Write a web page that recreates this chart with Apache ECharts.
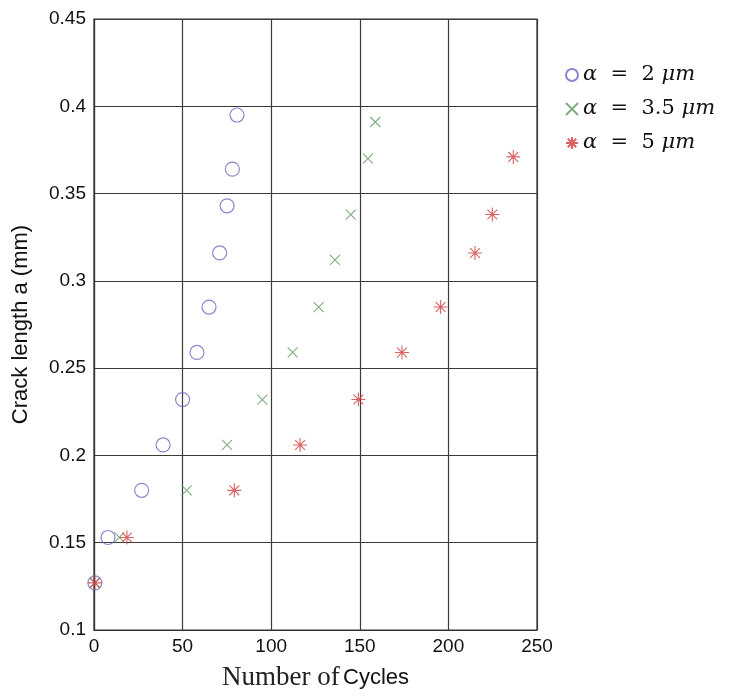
<!DOCTYPE html>
<html>
<head>
<meta charset="utf-8">
<script src="https://cdn.jsdelivr.net/npm/echarts@6/dist/echarts.min.js"></script>
<style>html,body{margin:0;padding:0;background:#fff;}#c{width:745px;height:696px;}</style>
</head>
<body>
<div id="c"></div>
<script>
// Data
var seriesNames = ['α = 2 μm', 'α = 3.5 μm', 'α = 5 μm'];
var cycles2 = [0.5, 7.9, 26.9, 39, 50, 58.1, 64.9, 70.9, 75.1, 78.1, 80.7];
var crack2 = [0.127, 0.153, 0.180, 0.206, 0.232, 0.259, 0.285, 0.316, 0.343, 0.364, 0.395];
var cycles35 = [0.5, 14.3, 52.3, 75.1, 95, 112.1, 126.8, 136, 144.9, 154.6, 158.7];
var crack35 = [0.127, 0.153, 0.180, 0.206, 0.232, 0.259, 0.285, 0.312, 0.338, 0.370, 0.391];
var cycles5 = [0.5, 18.6, 79.2, 116.3, 149.2, 173.8, 195.6, 215, 224.8, 236.6];
var crack5 = [0.127, 0.153, 0.180, 0.206, 0.232, 0.259, 0.285, 0.316, 0.338, 0.371];
var xTicks = [0, 50, 100, 150, 200, 250];
var yTicks = [0.1, 0.15, 0.2, 0.25, 0.3, 0.35, 0.4, 0.45];

function pairs(xs, ys) { return xs.map(function (x, i) { return [x, ys[i]]; }); }

var chart = echarts.init(document.getElementById('c'));
var gridColor = '#3a3a3a';
var option = {
  animation: false,
  backgroundColor: '#fff',
  grid: { left: 94, top: 19, right: 208, bottom: 66, show: true, borderColor: '#333', borderWidth: 1.2, backgroundColor: '#fff' },
  xAxis: {
    type: 'value', min: xTicks[0], max: xTicks[xTicks.length - 1], interval: 50,
    axisLine: { show: true, lineStyle: { color: '#333', width: 1.2 } },
    axisTick: { show: false },
    splitLine: { show: true, lineStyle: { color: gridColor, width: 1.2 } },
    axisLabel: { color: '#111', fontSize: 19, fontFamily: 'Liberation Sans, Arial', margin: 7 },
    name: '{a|Number of} {b|Cycles}',
    nameLocation: 'middle', nameGap: 34,
    nameTextStyle: {
      rich: {
        a: { fontFamily: 'Liberation Serif, Times New Roman, serif', fontSize: 27, color: '#222' },
        b: { fontFamily: 'Liberation Sans, Arial', fontSize: 22, color: '#111' }
      }
    }
  },
  yAxis: {
    type: 'value', min: yTicks[0], max: yTicks[yTicks.length - 1], interval: 0.05,
    axisLine: { show: true, lineStyle: { color: '#333', width: 1.2 } },
    axisTick: { show: false },
    splitLine: { show: true, lineStyle: { color: gridColor, width: 1.2 } },
    axisLabel: { color: '#111', fontSize: 19, fontFamily: 'Liberation Sans, Arial', margin: 8,
      formatter: function (v) { return String(+v.toFixed(2)); } },
    name: 'Crack length a (mm)',
    nameLocation: 'middle', nameGap: 62, nameRotate: 90,
    nameTextStyle: { fontFamily: 'Liberation Sans, Arial', fontSize: 22, color: '#111' }
  },
  legend: {
    left: 560, top: 58, orient: 'vertical', itemGap: 10, itemWidth: 12, itemHeight: 12,
    data: seriesNames,
    formatter: function (n) {
      if (n === seriesNames[0]) return '{i|α}{t|  =  2 }{i|μm}';
      if (n === seriesNames[1]) return '{i|α}{t|  =  3.5 }{i|μm}';
      return '{i|α}{t|  =  5 }{i|μm}';
    },
    textStyle: {
      lineHeight: 24,
      rich: {
        i: { fontFamily: 'DejaVu Serif, Liberation Serif, serif', fontStyle: 'italic', fontSize: 21, color: '#111', lineHeight: 24 },
        t: { fontFamily: 'DejaVu Serif, Liberation Serif, serif', fontSize: 21, color: '#111', lineHeight: 24 }
      }
    }
  },
  series: [
    {
      name: seriesNames[0], type: 'scatter', symbol: 'circle', symbolSize: 14,
      itemStyle: { color: 'rgba(255,255,255,0)', borderColor: '#6a6ac2', borderWidth: 1.2 },
      data: pairs(cycles2, crack2), z: 3
    },
    {
      name: seriesNames[1], type: 'scatter', symbol: 'path://M0,0L10,10M10,0L0,10', symbolSize: 10,
      itemStyle: { color: 'rgba(255,255,255,0)', borderColor: '#5e9a5e', borderWidth: 1.1 },
      data: pairs(cycles35, crack35), z: 4
    },
    {
      name: seriesNames[2], type: 'scatter',
      symbol: 'path://M5,0L5,10M0,5L10,5M1.5,1.5L8.5,8.5M8.5,1.5L1.5,8.5', symbolSize: 14,
      itemStyle: { color: 'rgba(255,255,255,0)', borderColor: '#d23c3c', borderWidth: 1.1 },
      data: pairs(cycles5, crack5), z: 5
    }
  ]
};
chart.setOption(option);
</script>
</body>
</html>
